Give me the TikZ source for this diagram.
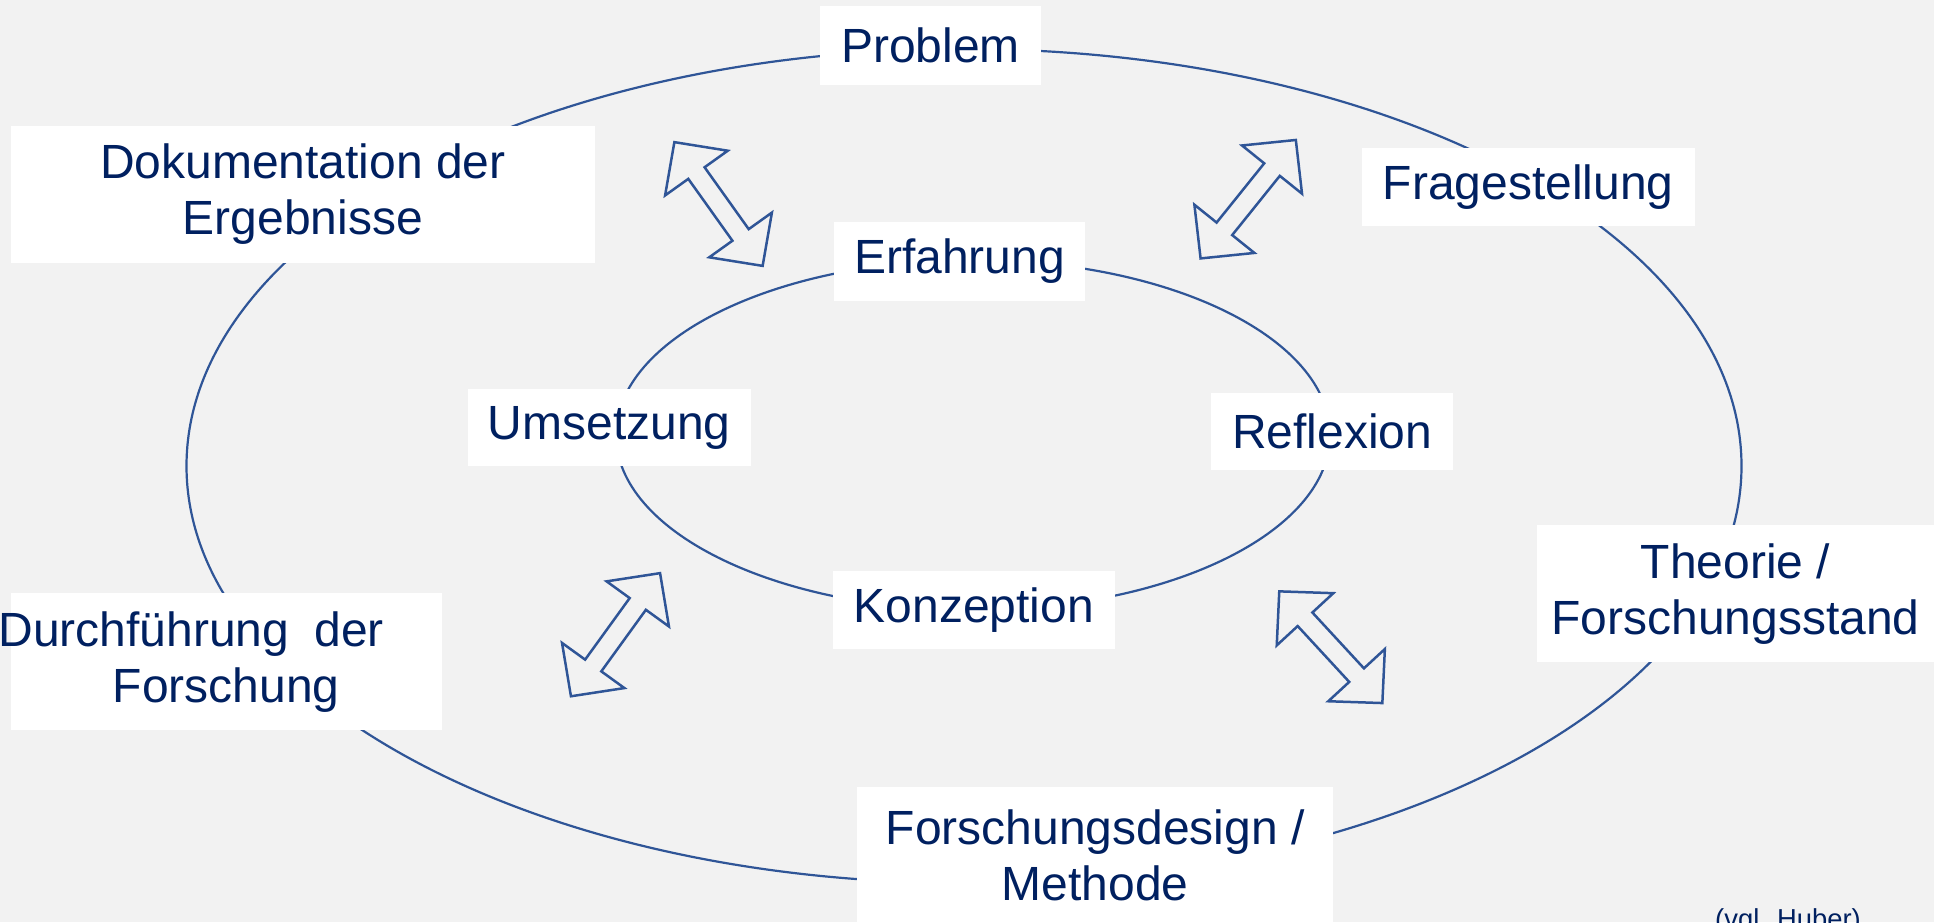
\documentclass[tikz,border=0pt]{standalone}
\usepackage{fontspec}
\setmainfont{Liberation Sans}
\definecolor{bgcol}{HTML}{F2F2F2}
\definecolor{txtcol}{HTML}{002060}
\definecolor{linecol}{HTML}{2F5597}
\tikzset{
  ringline/.style={draw=linecol, line width=2.2pt},
  arrowline/.style={draw=linecol, line width=2.5pt, line join=miter},
  labelbox/.style={fill=white, draw=none, inner sep=0pt, align=center, text=txtcol,
     font=\fontsize{48}{56}\selectfont},
  dblarrow/.pic={
    \draw[arrowline] (-76,0) -- (-38,38.5) -- (-38,10) -- (38,10) -- (38,38.5) -- (76,0)
      -- (38,-38.5) -- (38,-10) -- (-38,-10) -- (-38,-38.5) -- cycle;
  }
}
\begin{document}
\begin{tikzpicture}[x=1pt,y=-1pt]
\useasboundingbox (0,0) rectangle (1934,922);
\clip (0,0) rectangle (1934,922);
\fill[bgcol] (0,0) rectangle (1934,922);
% rings
\draw[ringline] (964,466) ellipse [x radius=777.5, y radius=417];
\draw[ringline] (973,435) ellipse [x radius=357, y radius=175];
% outer labels
\node[labelbox, minimum width=221pt, minimum height=79pt] (problem) at (930.5,45.5) {Problem};
\node[labelbox, minimum width=583.5pt, minimum height=137pt] (doku) at (302.8,194.2) {Dokumentation der\\Ergebnisse};
\node[labelbox, minimum width=333pt, minimum height=77.7pt] (frage) at (1528.2,186.9) {Fragestellung};
\node[labelbox, minimum width=397.2pt, minimum height=137pt] (theorie) at (1735.4,593.9) {Theorie /\\Forschungsstand};
\node[labelbox, minimum width=430.6pt, minimum height=137pt] (durch) at (226.3,661.7) {\hspace*{-70pt}Durchführung\hspace{12pt} der\\Forschung};
\node[labelbox, minimum width=476pt, minimum height=137pt] (design) at (1095.3,855.5) {Forschungsdesign /\\Methode};
% inner labels
\node[labelbox, minimum width=251.6pt, minimum height=79pt] (erfahrung) at (959.6,261.5) {Erfahrung};
\node[labelbox, minimum width=283.6pt, minimum height=77pt] (umsetzung) at (609.3,427.6) {Umsetzung};
\node[labelbox, minimum width=241.8pt, minimum height=77.5pt] (reflexion) at (1332.1,431.3) {Reflexion};
\node[labelbox, minimum width=282.4pt, minimum height=77.8pt] (konzeption) at (973.8,609.9) {Konzeption};
% double arrows
\pic[rotate=-54.5] at (718.5,204) {dblarrow};
\pic[rotate=51.2] at (1248.2,199.2) {dblarrow};
\pic[rotate=54.1] at (615.5,634.7) {dblarrow};
\pic[rotate=-47.3] at (1330.8,647.2) {dblarrow};
% source
\node[anchor=base west, inner sep=0pt, text=txtcol, font=\fontsize{27.4}{32}\selectfont] (source) at (1715,928) {(vgl. Huber)};
\end{tikzpicture}
\end{document}
